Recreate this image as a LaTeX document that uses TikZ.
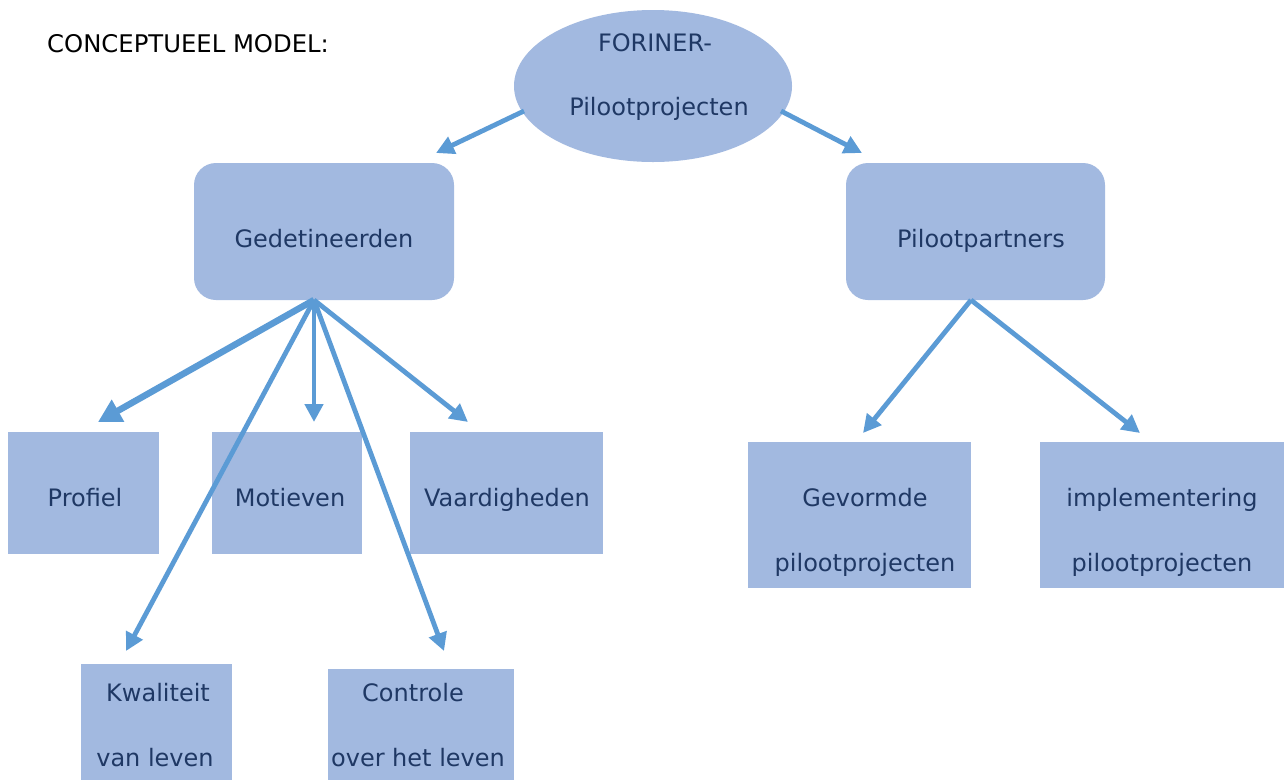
\documentclass[tikz,border=0pt]{standalone}
\usepackage{fontspec}
\setmainfont{DejaVu Sans}
\usetikzlibrary{shapes.geometric,arrows.meta}
\definecolor{boxfill}{RGB}{162,185,224}
\definecolor{arrowc}{RGB}{91,155,213}
\definecolor{txt}{RGB}{31,56,100}
\tikzset{
  box/.style={draw=none,fill=boxfill,rectangle,inner sep=0pt},
  rbox/.style={box,rounded corners=22pt},
  lbl/.style={anchor=base,text=txt,inner sep=0pt,font=\fontsize{24}{24}\selectfont},
  arr/.style={draw=arrowc,line width=4.8pt,-{Triangle[length=18pt,width=18pt]}},
  arrthick/.style={draw=arrowc,line width=6.5pt,-{Triangle[length=23pt,width=24pt]}}
}
\begin{document}
\begin{tikzpicture}[x=1pt,y=-1pt]
\useasboundingbox (0,0) rectangle (1284,780);
\fill[white] (0,0) rectangle (1284,780);
% title
\node[anchor=base west,inner sep=0pt,font=\fontsize{24.3}{24}\selectfont] (title) at (47,52) {CONCEPTUEEL MODEL:};
% shapes
\node[ellipse,fill=boxfill,inner sep=0pt,minimum width=278pt,minimum height=152pt] (fo) at (653,86) {};
\node[rbox,minimum width=260pt,minimum height=137pt] (ged) at (324,231.5) {};
\node[rbox,minimum width=259pt,minimum height=137pt] (pp) at (975.5,231.5) {};
\node[box,minimum width=151pt,minimum height=122pt] (prof) at (83.5,493) {};
\node[box,minimum width=150pt,minimum height=122pt] (mot) at (287,493) {};
\node[box,minimum width=193pt,minimum height=122pt] (vaar) at (506.5,493) {};
\node[box,minimum width=223pt,minimum height=146pt] (gev) at (859.5,515) {};
\node[box,minimum width=244pt,minimum height=146pt] (impl) at (1162,515) {};
\node[box,minimum width=151pt,minimum height=116pt] (kwal) at (156.5,722) {};
\node[box,minimum width=186pt,minimum height=111pt] (con) at (421,724.5) {};
% labels
\node[lbl] (fo1) at (655,51) {FORINER-};
\node[lbl] (fo2) at (659,115) {Pilootprojecten};
\node[lbl] (gedt) at (324,247) {Gedetineerden};
\node[lbl] (ppt) at (981,247) {Pilootpartners};
\node[lbl] (proft) at (85,506) {Profiel};
\node[lbl] (mott) at (290,506) {Motieven};
\node[lbl] (vaart) at (507,506) {Vaardigheden};
\node[lbl] (gev1) at (865,506) {Gevormde};
\node[lbl] (gev2) at (865,571) {pilootprojecten};
\node[lbl] (impl1) at (1162,506) {implementering};
\node[lbl] (impl2) at (1162,571) {pilootprojecten};
\node[lbl] (kwal1) at (158,701) {Kwaliteit};
\node[lbl] (kwal2) at (155,766) {van leven};
\node[lbl] (con1) at (413,701) {Controle};
\node[lbl] (con2) at (418,766) {over het leven};
% connector end points
\coordinate (foL) at (524,111);
\coordinate (foR) at (781,111);
\coordinate (gedIn) at (436,153);
\coordinate (ppIn) at (862,153);
\coordinate (gedOut) at (314,300);
\coordinate (ppOut) at (971,300);
\coordinate (profIn) at (98,422);
\coordinate (motIn) at (314,422);
\coordinate (vaarIn) at (468,422);
\coordinate (kwalIn) at (126,651);
\coordinate (conIn) at (444,651);
\coordinate (gevIn) at (863,433);
\coordinate (implIn) at (1140,433);
% connectors
\draw[arr] (foL) -- (gedIn);
\draw[arr] (foR) -- (ppIn);
\draw[arrthick] (gedOut) -- (profIn);
\draw[arr] (gedOut) -- (motIn);
\draw[arr] (gedOut) -- (vaarIn);
\draw[arr] (gedOut) -- (kwalIn);
\draw[arr] (gedOut) -- (conIn);
\draw[arr] (ppOut) -- (gevIn);
\draw[arr] (ppOut) -- (implIn);
\end{tikzpicture}
\end{document}
